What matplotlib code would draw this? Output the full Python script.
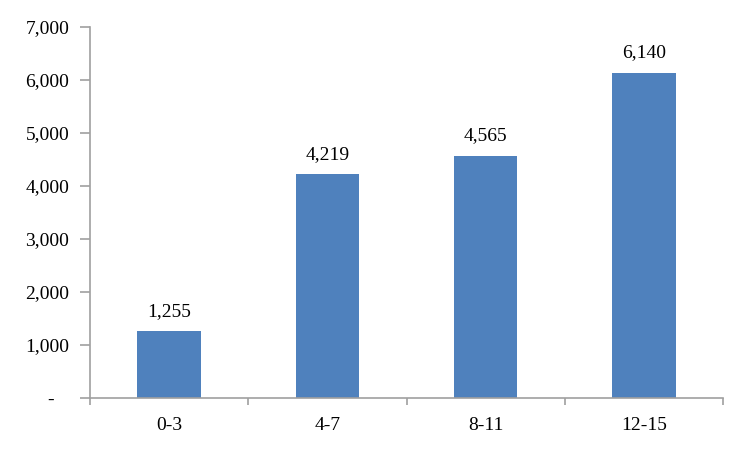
import matplotlib.pyplot as plt
import numpy as np

categories = ['0-3', '4-7', '8-11', '12-15']
values = [1255, 4219, 4565, 6140]
yticks = [0, 1000, 2000, 3000, 4000, 5000, 6000, 7000]

plt.rcParams['font.family'] = ['Liberation Serif', 'DejaVu Serif']

fig = plt.figure(figsize=(7.5, 4.5), dpi=100)
ax = fig.add_axes([90 / 750, 1 - 398 / 450, (723 - 90) / 750, (398 - 27) / 450])

x = np.arange(len(categories))
bars = ax.bar(x, values, width=0.4, color='#4F81BD', zorder=2)
for xi, v in zip(x, values):
    ax.text(xi, v + 220, f'{v:,}', ha='center', va='bottom', fontsize=14)

ax.set_xlim(-0.5, len(categories) - 0.5)
ax.set_ylim(0, 7000)
ax.set_yticks(yticks)
ax.set_yticklabels(['-   ' if t == 0 else f'{t:,}' for t in yticks], fontsize=14)

ax.set_xticks(x)
ax.set_xticklabels(categories, fontsize=14)
ax.tick_params(axis='x', length=0, pad=14)
ax.set_xticks(np.arange(-0.5, len(categories)), minor=True)
ax.tick_params(axis='x', which='minor', length=5, color='#a0a0a0', width=1.2)
ax.tick_params(axis='y', length=7, color='#a0a0a0', width=1.2, pad=8)

for s in ['top', 'right']:
    ax.spines[s].set_visible(False)
for s in ['left', 'bottom']:
    ax.spines[s].set_color('#a0a0a0')
    ax.spines[s].set_linewidth(1.2)

fig.savefig('out.png', dpi=100)
